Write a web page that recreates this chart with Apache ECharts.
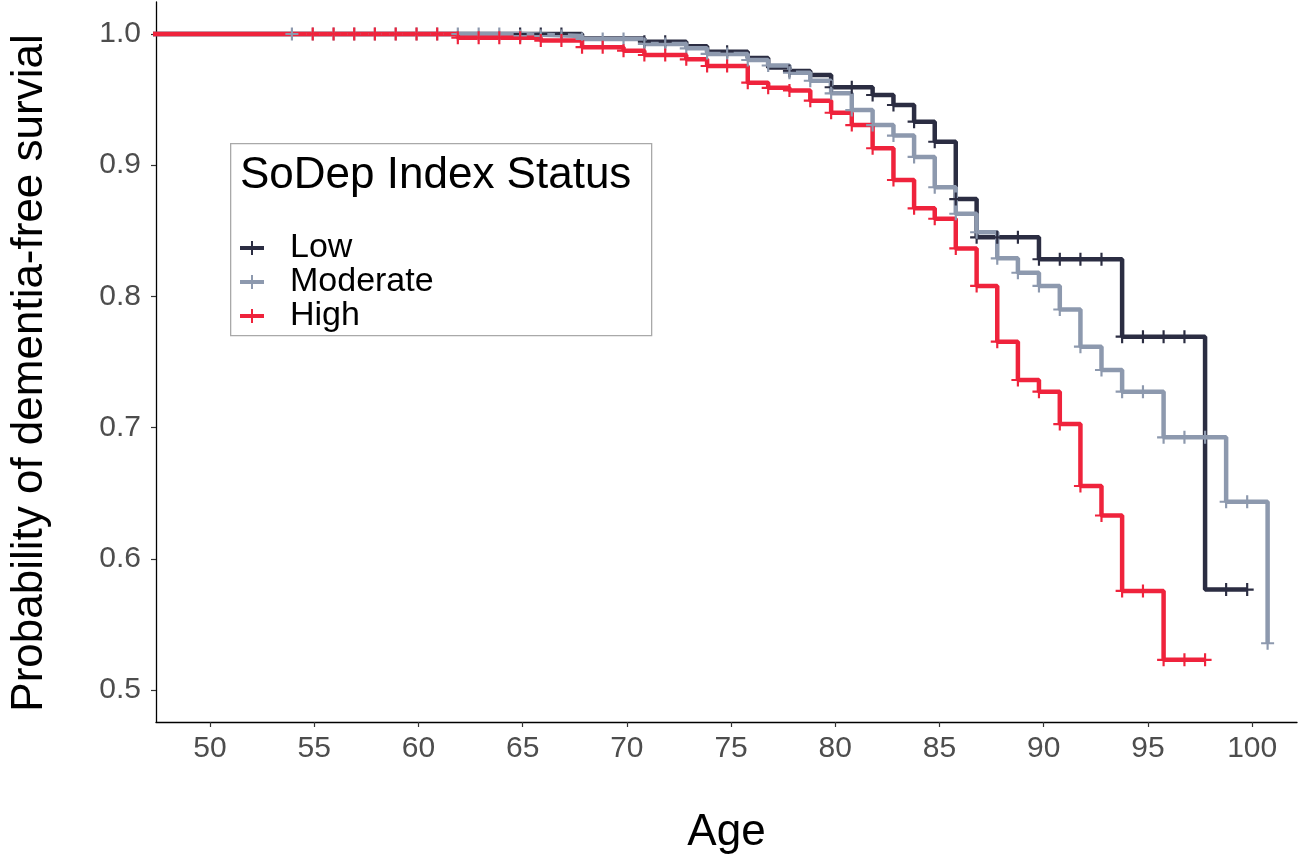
<!DOCTYPE html>
<html>
<head>
<meta charset="utf-8">
<script src="https://cdn.jsdelivr.net/npm/echarts@6/dist/echarts.min.js"></script>
<style>
  html, body { margin: 0; padding: 0; background: #fff; }
  #chart { width: 1300px; height: 861px; }
</style>
</head>
<body>
<div id="chart"></div>
<script>
// ---------------- DATA ----------------
const ageTicks = [50, 55, 60, 65, 70, 75, 80, 85, 90, 95, 100];
const probTicks = [0.5, 0.6, 0.7, 0.8, 0.9, 1.0];
const groupNames = ['Low', 'Moderate', 'High'];

// Low SoDep index: step times (age) and survival after each step
const lowTimes = [0, 67.85, 70.84, 72.85, 73.85, 75.8, 76.78, 77.8, 78.8, 79.8, 81.79, 82.79, 83.78, 84.77, 85.78, 86.78, 89.77, 93.76, 97.74];
const lowSurv  = [1.0, 0.9965, 0.9941, 0.9906, 0.9865, 0.9818, 0.9745, 0.9718, 0.9688, 0.9594, 0.9535, 0.9459, 0.9332, 0.9179, 0.8742, 0.8450, 0.8283, 0.7693, 0.5765];
const lowCensor = [64.88, 65.87, 66.86, 70.84, 71.84, 74.81, 77.8, 79.8, 80.79, 81.79, 82.79, 83.78, 84.77, 85.78, 86.78, 87.77, 88.76, 89.77, 90.77, 91.76, 92.77, 93.76, 94.76, 95.75, 96.75, 98.75, 99.76];

// Moderate SoDep index
const modTimes = [0, 64.88, 67.85, 70.84, 72.85, 73.85, 75.8, 76.78, 77.8, 78.8, 79.8, 80.79, 81.79, 82.79, 83.78, 84.77, 85.78, 86.78, 87.77, 88.76, 89.77, 90.77, 91.76, 92.77, 93.76, 95.75, 98.75, 100.74];
const modSurv  = [1.0, 0.9985, 0.9962, 0.9924, 0.9891, 0.9848, 0.9802, 0.9760, 0.9705, 0.9644, 0.9548, 0.9420, 0.9306, 0.9226, 0.9063, 0.8832, 0.8630, 0.8489, 0.8290, 0.8180, 0.8080, 0.7900, 0.7617, 0.7439, 0.7274, 0.6926, 0.6435, 0.5356];
const modCensor = [53.93, 54.93, 55.93, 56.92, 57.91, 58.91, 59.91, 60.9, 61.89, 62.89, 63.88, 64.88, 65.87, 66.86, 67.85, 68.84, 69.84, 70.84, 71.84, 72.85, 73.85, 74.81, 75.8, 76.78, 77.8, 78.8, 79.8, 80.79, 81.79, 82.79, 83.78, 84.77, 85.78, 86.78, 87.77, 88.76, 89.77, 90.77, 91.76, 92.77, 93.76, 94.76, 95.75, 96.75, 97.74, 98.75, 99.76, 100.74];

// High SoDep index
const highTimes = [0, 61.89, 65.87, 67.85, 69.84, 70.84, 72.85, 73.85, 75.8, 76.78, 77.8, 78.8, 79.8, 80.79, 81.79, 82.79, 83.78, 84.77, 85.78, 86.78, 87.77, 88.76, 89.77, 90.77, 91.76, 92.77, 93.76, 95.75];
const highSurv  = [1.0, 0.9972, 0.9950, 0.9900, 0.9873, 0.9840, 0.9807, 0.9756, 0.9629, 0.9590, 0.9570, 0.9492, 0.9400, 0.9306, 0.9129, 0.8887, 0.8671, 0.8592, 0.8366, 0.8080, 0.7655, 0.7363, 0.7274, 0.7027, 0.6555, 0.6330, 0.5755, 0.5230];
const highCensor = [54.93, 55.93, 56.92, 57.91, 58.91, 59.91, 60.9, 61.89, 62.89, 63.88, 64.88, 65.87, 66.86, 67.85, 68.84, 69.84, 70.84, 71.84, 72.85, 73.85, 74.81, 75.8, 76.78, 77.8, 78.8, 79.8, 80.79, 81.79, 82.79, 83.78, 84.77, 85.78, 86.78, 87.77, 88.76, 89.77, 90.77, 91.76, 92.77, 93.76, 94.76, 95.75, 96.75, 97.74];

const colors = ['#2B2D42', '#8D99AE', '#EF233C'];

// ---------------- helpers ----------------
function survAt(times, surv, t) {
  let s = surv[0];
  for (let i = 0; i < times.length; i++) if (times[i] <= t + 1e-9) s = surv[i];
  return s;
}
function stepData(times, surv, censor) {
  const d = times.map((t, i) => [t, surv[i]]);
  const lastC = censor[censor.length - 1];
  if (lastC > times[times.length - 1]) d.push([lastC, surv[surv.length - 1]]);
  return d;
}
function censorData(times, surv, censor) {
  return censor.map(t => [t, survAt(times, surv, t)]);
}

const FONT = '"Liberation Sans", Arial, Helvetica, sans-serif';
const plusSymbol = 'path://M5,0 H7 V5 H12 V7 H7 V12 H5 V7 H0 V5 H5 Z';
const legendIcon = 'path://M0,5 H24 V9 H0 Z M11,0 H13 V14 H11 Z';

const groups = [
  [lowTimes, lowSurv, lowCensor],
  [modTimes, modSurv, modCensor],
  [highTimes, highSurv, highCensor]
];

const series = [];
groups.forEach((g, i) => {
  series.push({
    name: groupNames[i],
    type: 'line',
    step: 'end',
    data: stepData(g[0], g[1], g[2]),
    showSymbol: false,
    clip: true,
    lineStyle: { color: colors[i], width: 4.5 },
    itemStyle: { color: colors[i] },
    z: 2 + i,
    silent: true
  });
});
groups.forEach((g, i) => {
  series.push({
    name: groupNames[i] + ' censored',
    type: 'scatter',
    data: censorData(g[0], g[1], g[2]),
    symbol: plusSymbol,
    symbolSize: 13,
    itemStyle: { color: colors[i], opacity: 1 },
    z: 6 + i,
    silent: true
  });
});

const chart = echarts.init(document.getElementById('chart'), null, { renderer: 'canvas' });
chart.setOption({
  animation: false,
  backgroundColor: '#fff',
  grid: { left: 153, right: 3, top: 2, bottom: 139, containLabel: false },
  xAxis: {
    type: 'value',
    min: 47.41,
    max: 102.15,
    name: 'Age',
    nameLocation: 'middle',
    nameGap: 89,
    nameTextStyle: { fontSize: 44, color: '#000', fontFamily: FONT },
    splitLine: { show: false },
    axisLine: { show: true, onZero: false, lineStyle: { color: '#000', width: 1.3 } },
    axisTick: { show: true, length: 5, customValues: ageTicks, lineStyle: { color: '#333', width: 1.2 } },
    axisLabel: { customValues: ageTicks, fontSize: 30, color: '#4d4d4d', margin: 12, fontFamily: FONT }
  },
  yAxis: {
    type: 'value',
    min: 0.4756,
    max: 1.0244,
    name: 'Probability of dementia-free survial',
    nameLocation: 'middle',
    nameGap: 104,
    nameRotate: 90,
    nameTextStyle: { fontSize: 44, color: '#000', fontFamily: FONT, padding: [0, 22, 0, 0] },
    splitLine: { show: false },
    axisLine: { show: true, onZero: false, lineStyle: { color: '#000', width: 1.3 } },
    axisTick: { show: true, length: 5, customValues: probTicks, lineStyle: { color: '#333', width: 1.2 } },
    axisLabel: {
      customValues: probTicks, fontSize: 30, color: '#4d4d4d', margin: 15, fontFamily: FONT,
      formatter: v => Number(v).toFixed(1)
    }
  },
  legend: {
    data: groupNames,
    orient: 'vertical',
    left: 240,
    top: 231,
    padding: 0,
    itemGap: 0,
    itemWidth: 24,
    itemHeight: 14,
    icon: legendIcon,
    selectedMode: false,
    textStyle: { fontSize: 34, color: '#000', fontFamily: FONT, lineHeight: 32, padding: [0, 0, 0, 21] },
    z: 10
  },
  graphic: [
    {
      type: 'rect', left: 230, top: 143, z: 5,
      shape: { width: 421, height: 192 },
      style: { fill: '#fff', stroke: '#a9a9a9', lineWidth: 1.3 }
    },
    {
      type: 'text', left: 240, top: 154, z: 11,
      style: { text: 'SoDep Index Status', font: '44px ' + FONT, fill: '#000' }
    }
  ],
  series: series
});
</script>
</body>
</html>
